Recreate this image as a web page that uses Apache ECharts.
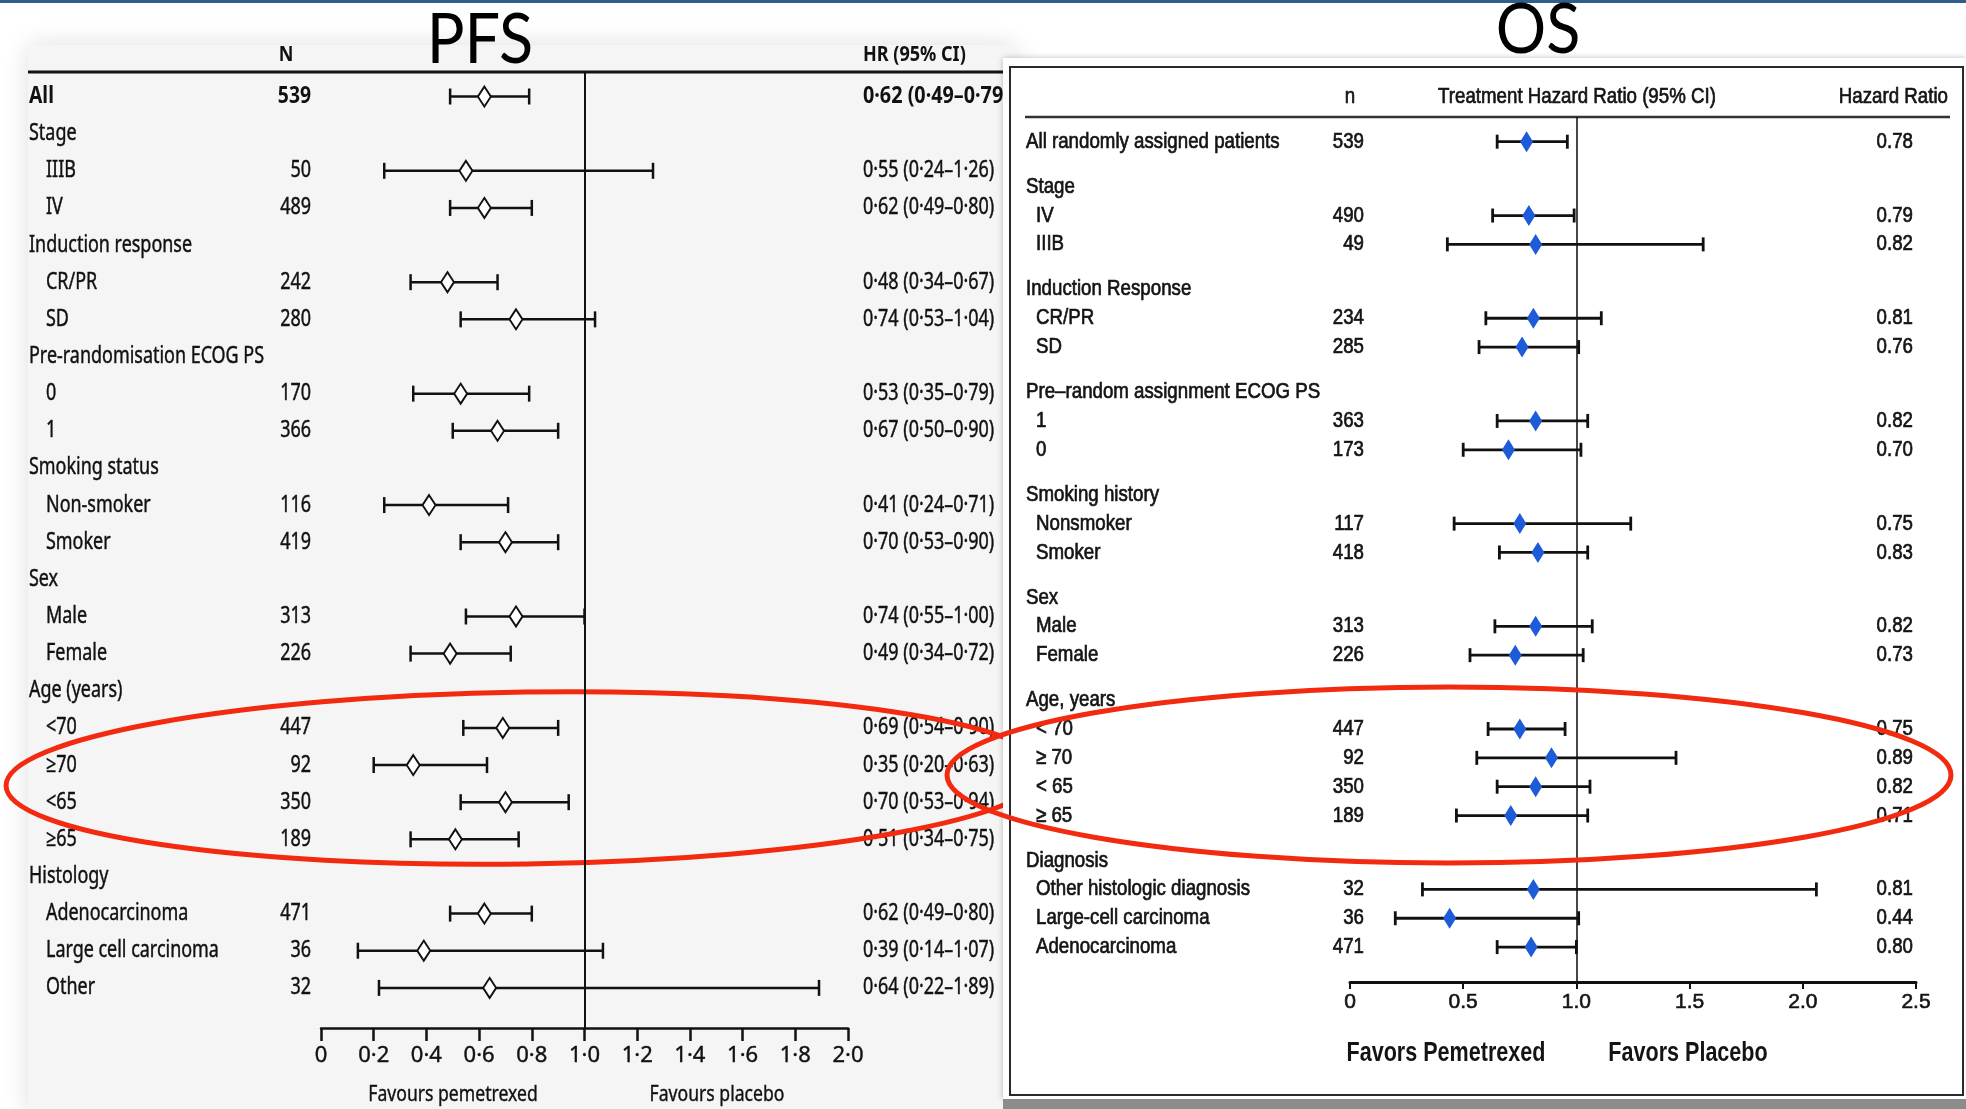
<!DOCTYPE html>
<html><head><meta charset="utf-8">
<script src="https://cdn.jsdelivr.net/npm/echarts/dist/echarts.min.js"></script>
<style>html,body{margin:0;padding:0;background:#fff}#c{width:1966px;height:1109px}</style>
</head><body><div id="c"></div>
<script>
// ---------------- PFS (left panel) ----------------
const pfsLabels = ['All','Stage','IIIB','IV','Induction response','CR/PR','SD','Pre-randomisation ECOG PS','0','1','Smoking status','Non-smoker','Smoker','Sex','Male','Female','Age (years)','<70','≥70','<65','≥65','Histology','Adenocarcinoma','Large cell carcinoma','Other'];
const pfsN    = [539,null,50,489,null,242,280,null,170,366,null,116,419,null,313,226,null,447,92,350,189,null,471,36,32];
const pfsHR   = [0.62,null,0.55,0.62,null,0.48,0.74,null,0.53,0.67,null,0.41,0.70,null,0.74,0.49,null,0.69,0.35,0.70,0.51,null,0.62,0.39,0.64];
const pfsLow  = [0.49,null,0.24,0.49,null,0.34,0.53,null,0.35,0.50,null,0.24,0.53,null,0.55,0.34,null,0.54,0.20,0.53,0.34,null,0.49,0.14,0.22];
const pfsHigh = [0.79,null,1.26,0.80,null,0.67,1.04,null,0.79,0.90,null,0.71,0.90,null,1.00,0.72,null,0.90,0.63,0.94,0.75,null,0.80,1.07,1.89];
const pfsTicks = ['0','0·2','0·4','0·6','0·8','1·0','1·2','1·4','1·6','1·8','2·0'];

// ---------------- OS (right panel) ----------------
const osLabels = ['All randomly assigned patients','Stage','IV','IIIB','Induction Response','CR/PR','SD','Pre–random assignment ECOG PS','1','0','Smoking history','Nonsmoker','Smoker','Sex','Male','Female','Age, years','< 70','≥ 70','< 65','≥ 65','Diagnosis','Other histologic diagnosis','Large-cell carcinoma','Adenocarcinoma'];
const osN    = [539,null,490,49,null,234,285,null,363,173,null,117,418,null,313,226,null,447,92,350,189,null,32,36,471];
const osHR   = [0.78,null,0.79,0.82,null,0.81,0.76,null,0.82,0.70,null,0.75,0.83,null,0.82,0.73,null,0.75,0.89,0.82,0.71,null,0.81,0.44,0.80];
const osLow  = [0.65,null,0.63,0.43,null,0.60,0.57,null,0.65,0.50,null,0.46,0.66,null,0.64,0.53,null,0.61,0.56,0.65,0.47,null,0.32,0.20,0.65];
const osHigh = [0.96,null,0.99,1.56,null,1.11,1.01,null,1.05,1.02,null,1.24,1.05,null,1.07,1.03,null,0.95,1.44,1.06,1.05,null,2.06,1.01,1.00];
const osTicks = ['0','0.5','1.0','1.5','2.0','2.5'];

// ---------------- layout helpers ----------------
const PF = "'Noto Sans','Open Sans',sans-serif";
const OF = "'Liberation Sans',Arial,sans-serif";
const pfsPos = pfsLabels.map((_, i) => i);
const osPos = [];
(function(){ let p = 0; osLabels.forEach((l, i) => { if (i > 0) p += (osN[i] == null ? 1.56 : 1); osPos.push(p); }); })();

function T(x, y, text, o) {
  o = o || {};
  const al = o.align || 'left';
  const col = o.color || '#111';
  const style = { text: text, fill: col, fontSize: o.size || 22, fontFamily: o.family || PF,
      fontWeight: o.weight || 'normal', align: al, verticalAlign: 'middle', textAlign: al, textVerticalAlign: 'middle' };
  if (o.sw) { style.stroke = col; style.lineWidth = o.sw; }
  const el = { type: 'text', x: x, y: y, scaleX: o.sx || 1, silent: true, style: style };
  if (o.z != null) el.z = o.z;
  return el;
}
const pfmt = v => v.toFixed(2).replace('.', '·');

function ciRender(color, lw, capH) {
  return function (params, api) {
    const a = api.coord([api.value(0), api.value(2)]);
    const b = api.coord([api.value(1), api.value(2)]);
    const st = { stroke: color, lineWidth: lw };
    return { type: 'group', children: [
      { type: 'line', shape: { x1: a[0], y1: a[1], x2: b[0], y2: b[1] }, style: st },
      { type: 'line', shape: { x1: a[0], y1: a[1] - capH, x2: a[0], y2: a[1] + capH }, style: st },
      { type: 'line', shape: { x1: b[0], y1: b[1] - capH, x2: b[0], y2: b[1] + capH }, style: st }
    ]};
  };
}

const pfsCI = [], pfsPts = [], osCI = [], osPts = [];
pfsHR.forEach((v, i) => { if (v != null) { pfsCI.push([pfsLow[i], pfsHigh[i], pfsPos[i]]); pfsPts.push([v, pfsPos[i]]); } });
osHR.forEach((v, i) => { if (v != null) { osCI.push([osLow[i], osHigh[i], osPos[i]]); osPts.push([v, osPos[i]]); } });
const pfsRows = pfsLabels.map((l, i) => [0, pfsPos[i], i]);
const osRows = osLabels.map((l, i) => [0, osPos[i], i]);

function pfsText(params, api) {
  const i = api.value(2);
  const y = api.coord([0, api.value(1)])[1];
  const head = pfsN[i] == null;
  const o = i === 0 ? { sx: 0.84, size: 23, weight: 'bold' } : { sx: 0.78, size: 23, sw: 0.45 };
  const ch = [T((head || i === 0) ? 29 : 46, y, pfsLabels[i], o)];
  if (!head) {
    ch.push(T(311, y, String(pfsN[i]), Object.assign({}, o, { align: 'right' })));
    ch.push(T(863, y, pfmt(pfsHR[i]) + ' (' + pfmt(pfsLow[i]) + '–' + pfmt(pfsHigh[i]) + ')', Object.assign({}, o, i === 0 ? { sx: 0.86 } : {})));
  }
  return { type: 'group', children: ch };
}
function osText(params, api) {
  const i = api.value(2);
  const y = api.coord([0, api.value(1)])[1];
  const head = osN[i] == null;
  const o = { sx: 0.85, family: OF, color: '#141414', sw: 0.7 };
  const ch = [T((head || i === 0) ? 1026 : 1036, y, osLabels[i], o)];
  if (!head) {
    ch.push(T(1364, y, String(osN[i]), Object.assign({}, o, { align: 'right' })));
    ch.push(T(1913, y, osHR[i].toFixed(2), Object.assign({}, o, { align: 'right' })));
  }
  return { type: 'group', children: ch };
}

const RED = '#f22a10';
const option = {
  animation: false,
  backgroundColor: '#ffffff',
  grid: [
    { left: 321, right: 1118, top: 72, bottom: 81 },
    { left: 1350, right: 50, top: 117, bottom: 127 }
  ],
  xAxis: [
    { gridIndex: 0, type: 'value', min: 0, max: 2, interval: 0.2, z: 1, position: 'bottom',
      axisLine: { show: true, onZero: false, lineStyle: { color: '#111', width: 2.5 } },
      axisTick: { show: true, length: 13, lineStyle: { color: '#111', width: 2.5 } },
      splitLine: { show: false },
      axisLabel: { color: '#111', fontSize: 22, fontFamily: PF, margin: 17, textBorderColor: '#111', textBorderWidth: 0.4,
        formatter: v => pfsTicks[Math.round(v / 0.2)] } },
    { gridIndex: 1, type: 'value', min: 0, max: 2.5, interval: 0.5, z: 6, position: 'bottom',
      axisLine: { show: true, onZero: false, lineStyle: { color: '#111', width: 3 } },
      axisTick: { show: true, length: 7, lineStyle: { color: '#111', width: 2 } },
      splitLine: { show: false },
      axisLabel: { color: '#141414', fontSize: 21, fontFamily: "'Liberation Sans Narrow','Liberation Sans',sans-serif", margin: 10,
        textBorderColor: '#141414', textBorderWidth: 0.6,
        formatter: v => osTicks[Math.round(v / 0.5)] } }
  ],
  yAxis: [
    { gridIndex: 0, type: 'value', inverse: true, min: -0.66, max: 25.08, show: false },
    { gridIndex: 1, type: 'value', inverse: true, min: -0.856, max: 29.13, show: false }
  ],
  series: [
    { type: 'custom', name: 'PFS CI', xAxisIndex: 0, yAxisIndex: 0, z: 2, data: pfsCI,
      encode: { x: [0, 1], y: 2 }, renderItem: ciRender('#111', 2.5, 8) },
    { type: 'scatter', name: 'PFS HR', xAxisIndex: 0, yAxisIndex: 0, z: 2, data: pfsPts,
      symbol: 'diamond', symbolSize: [13, 20],
      itemStyle: { color: '#ffffff', borderColor: '#111', borderWidth: 2, opacity: 1 },
      markLine: { silent: true, symbol: ['none', 'none'], label: { show: false },
        lineStyle: { color: '#111', width: 2, type: 'solid' }, data: [{ xAxis: 1 }] } },
    { type: 'custom', name: 'PFS text', xAxisIndex: 0, yAxisIndex: 0, z: 2, data: pfsRows,
      encode: { x: 0, y: 1 }, renderItem: pfsText, clip: false },
    { type: 'custom', name: 'OS CI', xAxisIndex: 1, yAxisIndex: 1, z: 6, data: osCI,
      encode: { x: [0, 1], y: 2 }, renderItem: ciRender('#111', 2.8, 7) },
    { type: 'scatter', name: 'OS HR', xAxisIndex: 1, yAxisIndex: 1, z: 7, data: osPts,
      symbol: 'diamond', symbolSize: [13, 21],
      itemStyle: { color: '#1d5bd8', opacity: 1 },
      markLine: { silent: true, symbol: ['none', 'none'], label: { show: false }, z: 6,
        lineStyle: { color: '#1a1a1a', width: 1.6, type: 'solid' }, data: [{ xAxis: 1 }] } },
    { type: 'custom', name: 'OS text', xAxisIndex: 1, yAxisIndex: 1, z: 7, data: osRows,
      encode: { x: 0, y: 1 }, renderItem: osText, clip: false }
  ],
  graphic: { elements: [
    { type: 'rect', z: 0, silent: true, shape: { x: 0, y: 0, width: 1966, height: 3 }, style: { fill: '#2f5d8c' } },
    { type: 'rect', z: 0, silent: true, shape: { x: 28, y: 45, width: 987, height: 1070 },
      style: { fill: '#f5f5f5', shadowBlur: 24, shadowColor: 'rgba(0,0,0,0.13)' } },
    { type: 'line', z: 1, silent: true, shape: { x1: 28, y1: 72, x2: 1012, y2: 72 }, style: { stroke: '#111', lineWidth: 3 } },
    T(286, 55, 'N', { sx: 0.82, weight: 'bold', align: 'center', z: 1 }),
    T(863, 55, 'HR (95% CI)', { sx: 0.82, weight: 'bold', z: 1 }),
    T(453, 1095, 'Favours pemetrexed', { sx: 0.8, align: 'center', z: 1, sw: 0.4 }),
    T(717, 1095, 'Favours placebo', { sx: 0.8, align: 'center', z: 1, sw: 0.4 }),
    T(480, 40, 'PFS', { sx: 0.9, size: 70, family: "Lato,'Noto Sans',sans-serif", align: 'center', color: '#000', z: 1 }),
    { type: 'ellipse', z: 3, silent: true, rotation: 0.015, x: 526, y: 778,
      shape: { cx: 0, cy: 0, rx: 520, ry: 86 }, style: { fill: 'none', stroke: RED, lineWidth: 5 } },
    { type: 'rect', z: 4, silent: true, shape: { x: 1003, y: 58, width: 963, height: 1041 },
      style: { fill: '#ffffff', shadowBlur: 6, shadowColor: 'rgba(0,0,0,0.25)' } },
    { type: 'rect', z: 4, silent: true, shape: { x: 1003, y: 1099, width: 963, height: 10 }, style: { fill: '#8c8c8c' } },
    { type: 'rect', z: 5, silent: true, shape: { x: 1010, y: 67, width: 953, height: 1028 },
      style: { fill: 'none', stroke: '#2a2a2a', lineWidth: 2 } },
    { type: 'line', z: 5, silent: true, shape: { x1: 1025, y1: 117, x2: 1950, y2: 117 }, style: { stroke: '#333', lineWidth: 2.5 } },
    T(1350, 97, 'n', { sx: 0.85, family: OF, align: 'center', color: '#141414', z: 5, sw: 0.7 }),
    T(1577, 97, 'Treatment Hazard Ratio (95% CI)', { sx: 0.85, family: OF, align: 'center', color: '#141414', z: 5, sw: 0.7 }),
    T(1948, 97, 'Hazard Ratio', { sx: 0.85, family: OF, align: 'right', color: '#141414', z: 5, sw: 0.7 }),
    T(1446, 1053, 'Favors Pemetrexed', { sx: 0.77, size: 28, weight: 'bold', family: OF, align: 'center', color: '#141414', z: 5 }),
    T(1688, 1053, 'Favors Placebo', { sx: 0.77, size: 28, weight: 'bold', family: OF, align: 'center', color: '#141414', z: 5 }),
    T(1538, 30, 'OS', { sx: 0.9, size: 70, family: "Lato,'Noto Sans',sans-serif", align: 'center', color: '#000', z: 5 }),
    { type: 'ellipse', z: 20, silent: true, x: 1449, y: 775,
      shape: { cx: 0, cy: 0, rx: 502, ry: 88 }, style: { fill: 'none', stroke: RED, lineWidth: 5 } }
  ]}
};
const chart = echarts.init(document.getElementById('c'), null, { renderer: 'canvas', width: 1966, height: 1109 });
chart.setOption(option);
</script>
</body></html>
